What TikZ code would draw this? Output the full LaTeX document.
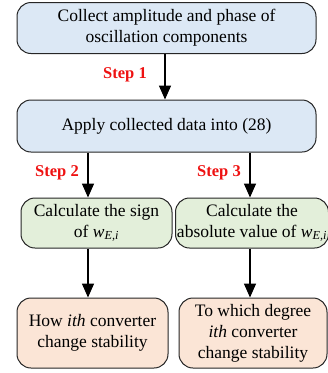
\documentclass[tikz,border=0pt]{standalone}
\usepackage{fontspec}
\setmainfont{Liberation Serif}
\usetikzlibrary{arrows.meta}
\definecolor{bluef}{HTML}{DCE8F5}
\definecolor{greenf}{HTML}{E3EFDA}
\definecolor{peachf}{HTML}{FBE5D6}
\definecolor{stepred}{HTML}{EE1111}
\tikzset{
  box/.style={draw=black!85, line width=1pt, rounded corners=14pt, align=center,
    font=\fontsize{17.5}{21}\selectfont, inner sep=0pt},
  arr/.style={line width=1.6pt, -{Triangle[length=14pt,width=12pt]}},
  steplbl/.style={text=stepred, font=\fontsize{16.5}{18}\selectfont\bfseries}
}
\newcommand{\wEi}{\textit{w}\textsubscript{\textit{E,i}}}
\begin{document}
\begin{tikzpicture}[x=1pt,y=-1pt]
\useasboundingbox (0,0) rectangle (328,373);
\node[box, fill=bluef, minimum width=299pt, minimum height=51pt] (a) at (166.5,28) {Collect amplitude and phase of\\oscillation components};
\node[box, fill=bluef, minimum width=299pt, minimum height=52pt] (b) at (166.5,126) {Apply collected data into (28)};
\node[box, fill=greenf, minimum width=151pt, minimum height=50pt] (c) at (96.5,223) {Calculate the sign\\of \wEi};
\node[box, fill=greenf, minimum width=153pt, minimum height=50pt] (d) at (252,223) {Calculate the\\absolute value of \wEi};
\node[box, fill=peachf, minimum width=151pt, minimum height=70pt] (e) at (92.5,333) {How \textit{ith} converter\\change stability};
\node[box, fill=peachf, minimum width=148pt, minimum height=70pt] (f) at (253,333) {To which degree\\\textit{ith} converter\\change stability};
\draw[arr] (a.south -| 165,0) -- (b.north -| 165,0);
\draw[arr] (b.south -| 88,0) -- (c.north -| 88,0);
\draw[arr] (b.south -| 250,0) -- (d.north -| 250,0);
\draw[arr] (c.south -| 88,0) -- (e.north -| 88,0);
\draw[arr] (d.south -| 250,0) -- (f.north -| 250,0);
\node[steplbl] (s1) at (125,75) {Step 1};
\node[steplbl] (s2) at (57,173) {Step 2};
\node[steplbl] (s3) at (219,173) {Step 3};
\end{tikzpicture}
\end{document}
